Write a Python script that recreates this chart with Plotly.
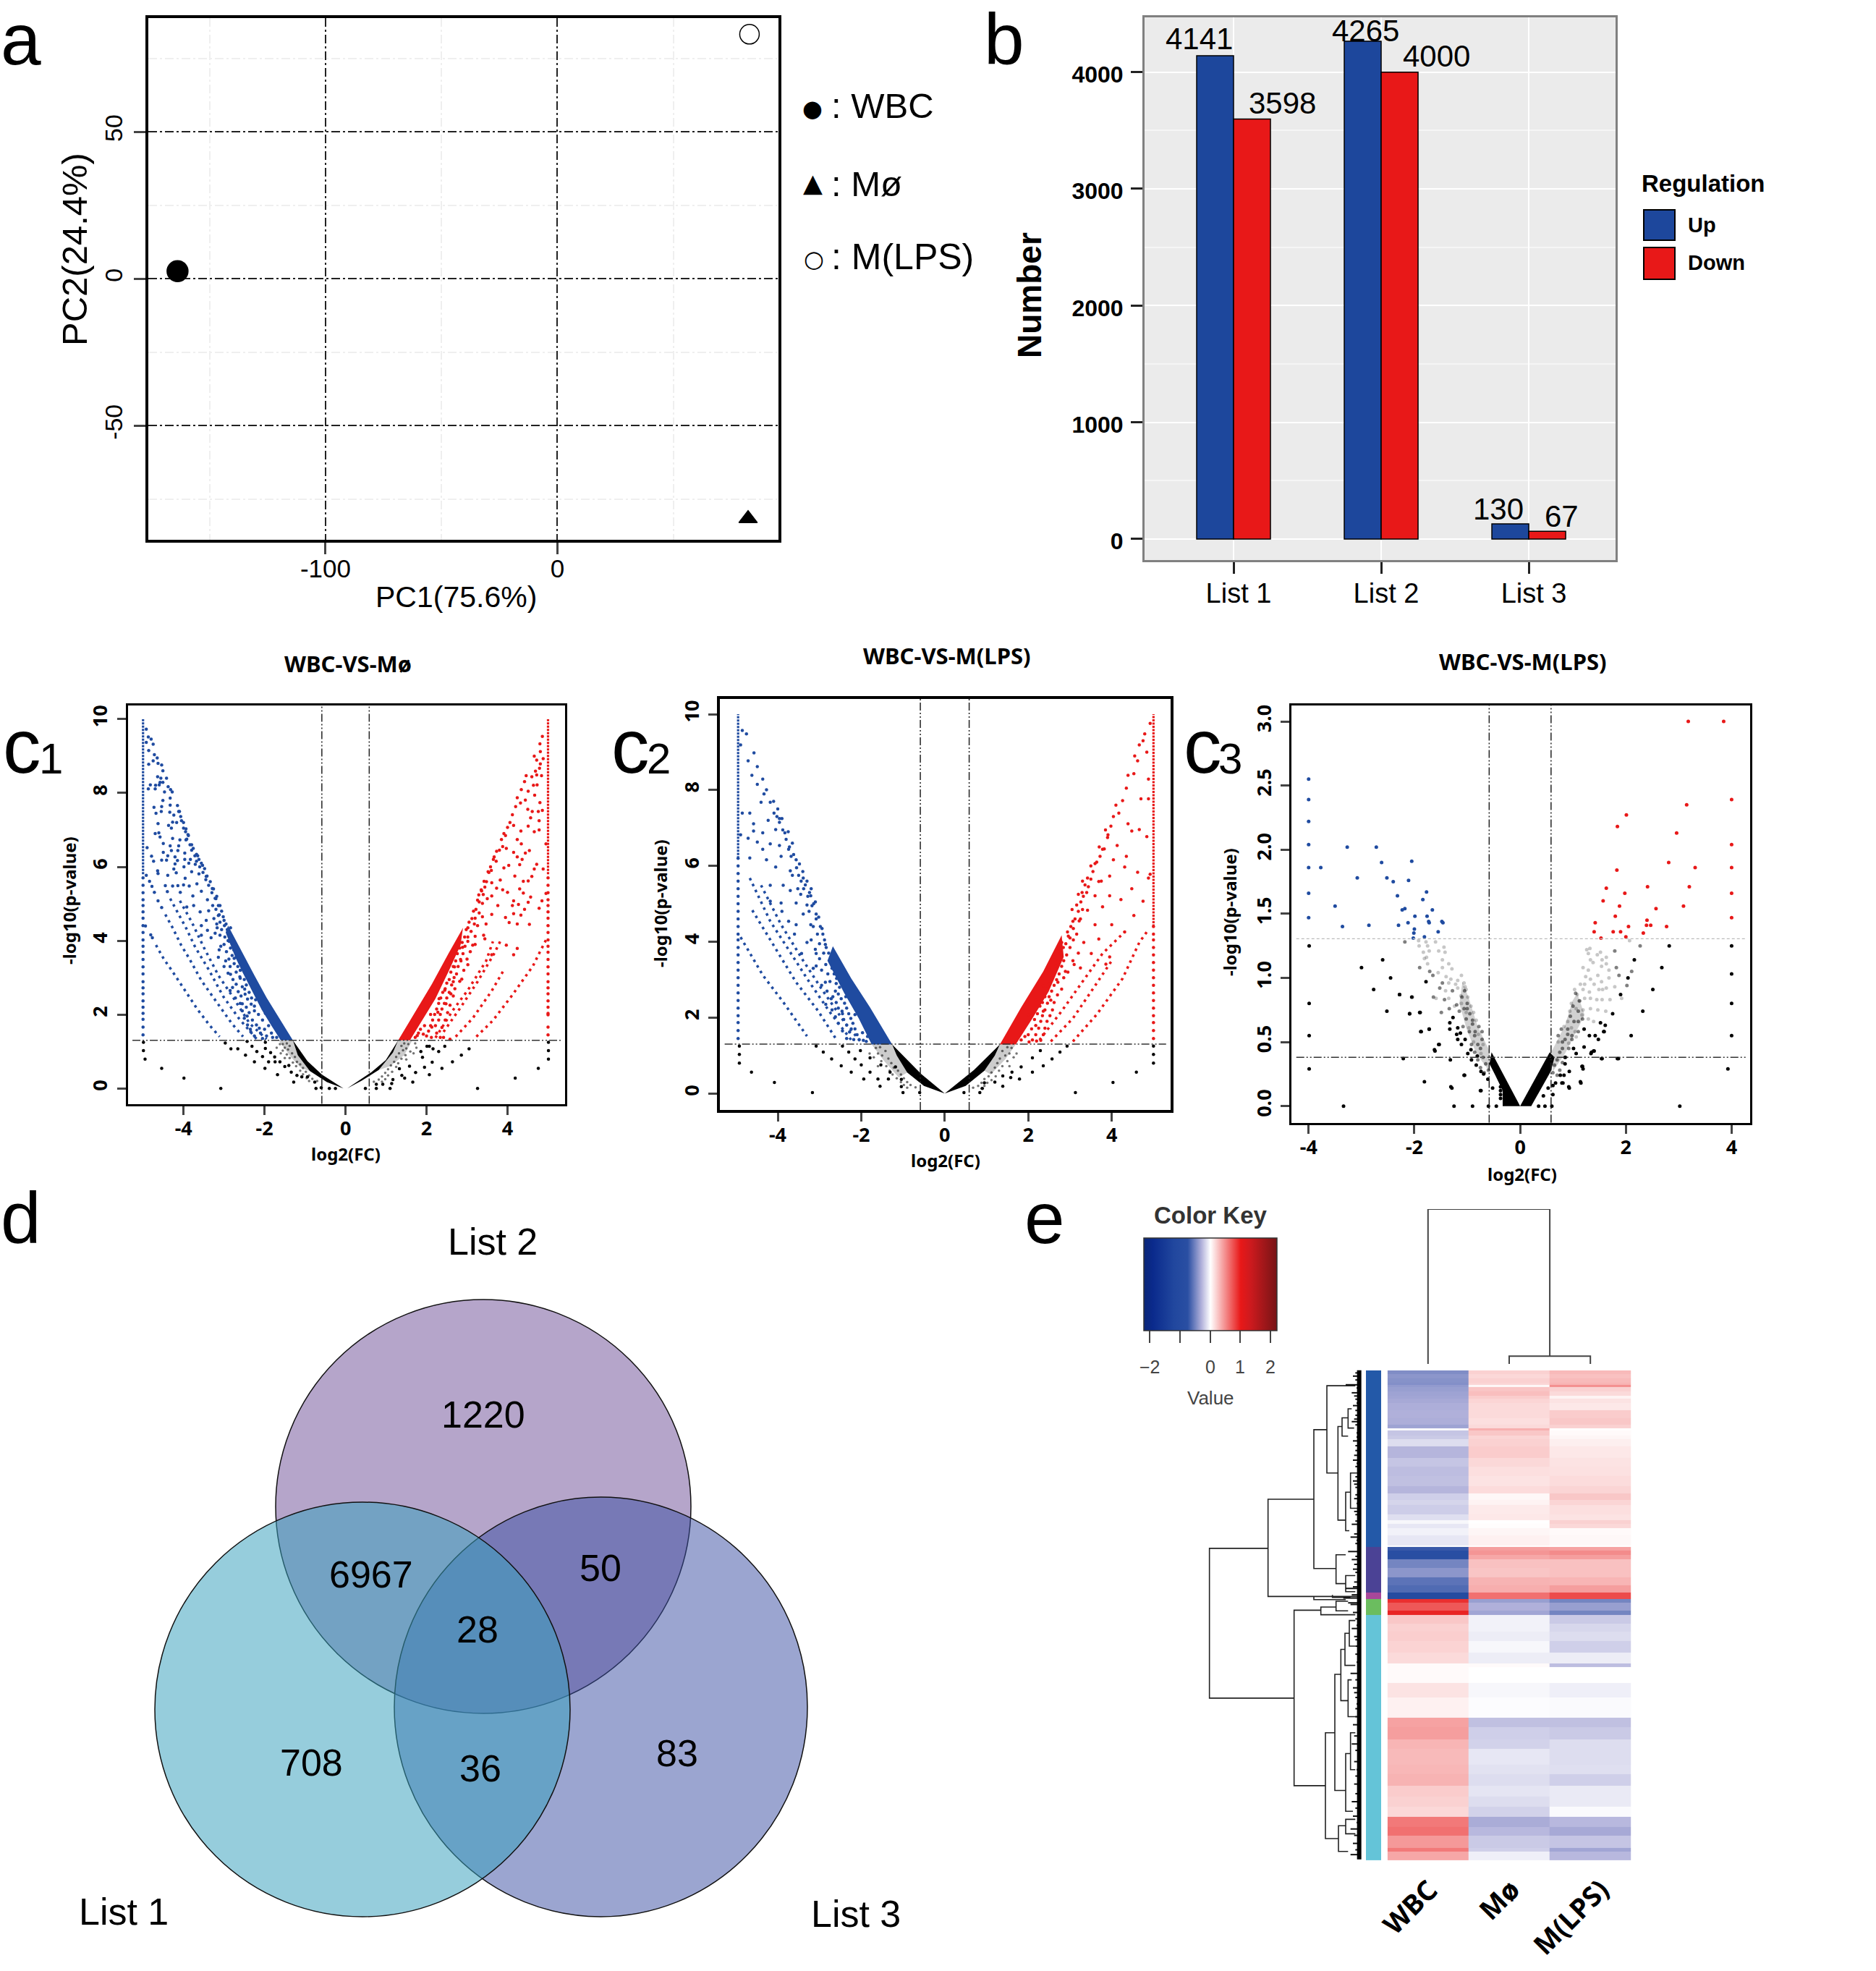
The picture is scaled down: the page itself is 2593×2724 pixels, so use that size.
import plotly.graph_objects as go

W = 2593
H = 2724
ARIAL = "Liberation Sans"
NOTO = "Noto Sans"
BLUE = "#1F4BA0"
RED = "#E81818"

# a: PCA
pca_names = ["WBC", "Mø", "M(LPS)"]
pca_x = [-163.8, 82.2, 82.8]
pca_y = [2.6, -81.6, 83.2]

# b: regulated genes
lists = ["List 1", "List 2", "List 3"]
up_counts = [4141, 4265, 130]
down_counts = [3598, 4000, 67]

# c1: WBC-VS-Mø, left side
c1_blue_band = [(-1.30,1.30),(-1.65,1.93),(-1.95,2.46),(-2.25,3.06),(-2.49,3.55),(-2.67,3.92),(-2.90,4.41),
                (-2.96,4.22),(-2.72,3.55),(-2.55,3.16),(-2.31,2.63),(-2.07,2.13),(-1.83,1.70),(-1.60,1.30)]
c1_blue_arcs = [(-4.68,3.88),(-4.48,3.49),(-4.30,3.21),(-3.96,2.66),(-3.65,2.13),(-3.35,1.70),(-3.11,1.40),(None,None),
                (-4.45,4.71),(-4.27,4.35),(-4.06,3.88),(-3.86,3.52),(-3.56,2.92),(-3.17,2.33),(-2.81,1.76),(-2.53,1.40),(None,None),
                (-4.33,5.14),(-4.12,4.71),(-3.94,4.35),(-3.71,3.82),(-3.38,3.22),(-3.02,2.49),(-2.63,1.89),(-2.19,1.33),(None,None),
                (-4.09,5.08),(-3.80,4.51),(-3.50,3.82),(-3.14,3.06),(-2.79,2.49),(-2.37,1.76),(-1.95,1.33)]
c1_blue_dots = [(-4.92,9.73),(-4.87,9.52),(-4.80,9.46),(-4.75,9.32),(-4.92,9.37),(-4.86,9.15),(-4.72,9.04),(-4.65,8.95),(-4.75,8.87),
                (-4.54,8.76),(-4.86,8.78),(-4.63,8.80),(-4.51,8.60),(-4.42,8.40),(-4.64,8.44),(-4.56,8.40),(-4.58,8.29),(-4.51,8.29),
                (-4.82,8.22),(-4.69,8.21),(-4.60,8.22),(-4.70,8.11),(-4.87,8.11),(-4.38,8.17),(-4.32,8.09),(-4.47,8.03),(-4.28,8.03),
                (-4.33,7.86),(-4.51,7.80),(-4.33,7.67),(-4.15,7.66),(-4.54,7.63),(-4.73,7.61),(-4.12,7.50),(-4.34,7.48),(-4.68,7.45),
                (-4.55,7.50),(-4.07,7.36),(-4.24,7.40),(-4.00,7.20),(-4.27,7.21),(-4.17,7.20),(-4.63,7.17),(-4.37,7.12),(-4.30,7.05),
                (-3.94,7.03),(-3.89,6.87),(-4.70,6.90),(-4.61,6.92),(-4.58,6.81),(-4.09,6.73),(-4.27,6.77),(-3.94,6.73),(-4.50,6.63),
                (-3.80,6.60),(-4.12,6.57),(-4.33,6.57),(-4.90,6.52),(-3.97,6.37),(-3.68,6.34),(-4.50,6.39),(-4.30,6.44),(-4.14,6.44),
                (-4.79,6.29),(-4.39,6.30),(-4.21,6.27),(-3.83,6.20),(-3.62,6.20),(-4.54,6.18),(-4.42,6.18),(-4.15,6.17),(-4.74,6.15),
                (-3.97,6.20),(-4.21,6.08),(-3.87,6.10),(-3.71,6.07),(-3.53,6.04),(-4.39,5.77),(-4.24,5.94),(-4.64,5.89),(-4.63,5.82),
                (-4.18,5.84),(-3.99,6.00),(-3.80,5.87),(-3.62,5.81),(-3.44,5.74),(-3.96,5.69),(-4.92,5.77),(-4.84,5.61),(-4.78,5.47),
                (-4.72,5.31),(-4.63,5.08),(-4.54,4.90),(-4.45,5.49),(-4.40,5.33),(-4.27,5.48),(-4.14,5.49),(-4.00,5.51),(-4.08,5.31),
                (-3.86,5.48),(-3.77,5.21),(-3.67,5.54),(-3.56,5.34),(-3.29,5.41),(-3.41,5.11),(-3.20,5.14),(-3.75,4.95),(-3.59,4.78),
                (-3.92,4.91),(-3.38,4.81),(-3.14,4.68),(-3.44,4.55),(-4.94,4.40),(-4.81,4.16),(-4.77,4.08),(-3.56,4.41),(-3.17,4.35),
                (-3.41,4.28),(-2.99,4.41),(-3.56,4.15),(-3.32,4.08),(-3.08,3.85),(-2.84,4.35),(-2.87,3.98),(-3.14,3.55),(-2.96,3.45),
                (-2.75,3.52),(-2.84,3.09),(-2.61,3.02),(-2.79,2.73),(-2.49,2.69),(-2.19,2.69),(-2.55,2.29),(-2.25,2.23),(-1.98,2.03),
                (-2.43,1.96),(-2.13,1.63),(-1.83,1.50),(-2.34,1.53),
                (-4.1,7.5),(-4.05,7.25),(-4.0,7.05),(-3.95,6.95),(-3.92,6.75),(-3.88,6.85),(-3.84,6.6),(-3.8,6.45),(-3.76,6.5),(-3.72,6.3),
                (-3.68,6.15),(-3.65,6.3),(-3.6,6.0),(-3.56,6.1),(-3.52,5.85),(-3.48,5.95),(-3.45,5.65),(-3.42,5.75),(-3.38,5.5),(-3.34,5.6),
                (-3.3,5.3),(-3.26,5.4),(-3.22,5.15),(-3.18,5.2),(-3.14,4.95),(-3.1,4.95),(-3.28,4.95),(-3.2,4.85),(-3.12,4.7),(-3.06,4.8),
                (-3.25,4.6),(-3.1,4.5),(-3.02,4.65),(-3.18,4.45),(-3.0,4.55),(-2.95,4.45),(-3.06,4.3),(-2.92,4.3),(-3.22,4.2),(-3.1,4.15),
                (-2.98,4.1),(-2.86,4.15),(-2.9,4.0),(-3.0,3.9),(-2.8,3.95),(-2.84,3.8),(-3.12,3.75),(-2.94,3.7),(-2.76,3.75),(-2.8,3.6),
                (-2.88,3.5),(-3.0,3.3),(-2.7,3.55),(-2.75,3.38),(-2.85,3.3),(-2.66,3.3),(-2.7,3.15),(-2.9,3.12),(-2.6,3.2),(-2.78,2.95),
                (-2.6,2.98),(-2.7,2.82),(-2.5,2.95),(-2.55,2.75),(-2.85,2.65),(-2.65,2.62),(-2.45,2.8),(-2.48,2.55),(-2.58,2.5),(-2.72,2.45),
                (-2.38,2.6),(-2.42,2.42),(-2.6,2.3),(-2.32,2.45),(-2.45,2.2),(-2.33,2.28),(-2.55,2.1),(-2.22,2.4),(-2.38,2.05),(-2.25,2.1),
                (-2.5,1.9),(-2.15,2.0),(-2.3,1.85),(-2.42,1.72),(-2.05,1.85),(-2.2,1.72),(-2.35,1.6),(-2.0,1.6),(-1.9,1.7),(-2.1,1.5),
                (-2.25,1.42),(-1.95,1.42),(-1.8,1.38),(-2.05,1.35),(-1.7,1.38)]
c1_blue_col_y = [1.45,1.66,1.87,2.03,2.2,2.37,2.56,2.72,2.89,3.1,3.29,3.49,3.69,3.85,4.02,4.22,4.41,4.61,4.78,4.95,5.11,5.3,5.5,5.7]
c1_black_left = [(-1.30,1.30),(-0.94,0.74),(-0.58,0.37),(-0.05,0.0),(-0.46,0.17),(-0.88,0.47),(-1.18,0.90)]
c1_fan_left = [(-1.65,1.30),(-1.30,1.30),(-1.18,0.90),(-0.88,0.47),(-1.1,0.55),(-1.35,0.85)]
c1_fan_dots_left = [(-1.55,1.2),(-1.45,1.22),(-1.5,1.1),(-1.42,1.05),(-1.38,1.15),(-1.55,1.02),(-1.32,0.95),(-1.45,0.92),(-1.25,0.85),(-1.38,0.82),
                    (-1.2,0.72),(-1.3,0.7),(-1.12,0.65),(-1.22,0.6),(-1.05,0.55),(-1.12,0.48),(-0.98,0.45),(-1.05,0.38),(-0.9,0.35),(-0.96,0.28),
                    (-0.82,0.26),(-0.9,0.2),(-0.7,0.2),(-1.5,0.82),(-1.6,0.95),(-1.7,1.1),(-1.62,1.2)]
c1_black_dots_left = [(-4.99,1.25),(-4.99,1.02),(-4.95,0.79),(-4.54,0.54),(-3.99,0.28),(-3.08,0.0),(-2.97,1.23),(-2.83,1.07),(-2.66,1.07),
                      (-2.47,0.90),(-2.43,1.27),(-2.31,1.14),(-2.19,1.0),(-2.05,0.86),(-2.25,0.72),(-1.90,0.72),(-1.99,0.54),(-1.74,0.72),
                      (-1.62,0.72),(-1.68,0.37),(-1.50,0.59),(-1.34,0.44),(-1.28,0.17),(-0.73,0.0),(-1.08,0.31),(-0.94,0.31),(-0.76,0.17),
                      (-1.98,1.08),(-1.85,0.97),(-1.75,0.85),(-1.98,1.25),(-0.6,0.02),(-0.4,0.0),(-0.25,0.0),(-1.4,0.62),(-1.2,0.35)]

# c1: right side
c1_red_band = [(1.30,1.30),(1.71,2.06),(2.13,2.82),(2.54,3.65),(2.90,4.35),
               (2.84,3.88),(2.54,3.16),(2.22,2.43),(1.89,1.83),(1.59,1.30)]
c1_red_arcs = [(3.23,1.40),(3.64,1.84),(4.12,2.53),(4.63,3.32),(4.81,3.72),(4.95,4.02),(None,None),
               (2.72,1.40),(3.14,1.90),(3.61,2.64),(3.91,3.21),(None,None),
               (2.42,1.53),(2.84,2.19),(3.26,2.89),(3.67,3.65),(3.85,4.05),(None,None),
               (2.22,1.37),(2.66,2.13),(3.02,2.66),(3.47,3.45),(3.64,3.98)]
c1_red_dots = [(4.86,9.53),(4.80,9.33),(4.81,9.12),(4.66,9.0),(4.88,8.93),(4.72,8.89),(4.81,8.79),(4.79,8.67),(4.69,8.59),(4.60,8.44),
               (4.46,8.47),(4.84,8.47),(4.72,8.49),(4.42,8.31),(4.64,8.21),(4.73,8.22),(4.34,8.09),(4.51,8.05),(4.67,7.94),(4.24,7.87),
               (4.32,7.73),(4.44,7.81),(4.20,7.63),(4.80,7.74),(4.50,7.56),(4.61,7.50),(4.76,7.50),(4.86,7.53),(4.12,7.41),(4.57,7.33),
               (4.78,7.25),(4.06,7.2),(4.51,7.10),(4.15,7.12),(4.0,7.07),(4.33,6.97),(4.66,6.95),(4.78,7.0),(3.91,6.9),(3.85,6.74),
               (4.24,6.74),(4.95,6.62),(4.34,6.62),(3.73,6.42),(3.97,6.50),(4.54,6.44),(4.44,6.37),(4.15,6.39),(3.67,6.27),(4.24,6.27),
               (4.36,6.2),(4.03,6.04),(3.91,5.97),(3.58,6.0),(4.72,6.07),(4.30,6.06),(4.88,5.94),(4.66,5.94),(3.52,5.87),(4.18,5.75),
               (4.60,5.74),(3.82,5.64),(4.39,5.61),(4.51,5.62),(3.42,5.61),(3.61,5.57),(3.73,5.42),(4.30,5.40),(3.88,5.38),(3.35,5.38),
               (4.0,5.31),(4.57,5.18),(4.39,5.29),(4.95,5.28),(3.61,5.21),(3.29,5.24),(3.50,5.14),(4.15,5.08),(4.51,5.04),(4.85,5.08),
               (3.76,4.95),(3.38,5.01),(4.12,4.95),(4.27,4.98),(4.78,4.88),(4.42,4.85),(4.33,4.69),(4.15,4.73),(3.61,4.71),(3.38,4.65),
               (3.95,4.63),(4.04,4.49),(4.24,4.45),(4.54,4.44),(3.20,4.61),(3.47,4.45),(3.26,4.41),(3.02,4.35),(3.41,4.15),(3.2,4.12),
               (3.02,3.98),(3.44,4.05),(2.89,3.82),(3.14,3.88),(4.24,3.79),(3.97,3.88),(4.15,3.62),(3.61,3.62),(2.84,3.49),(3.02,3.35),
               (2.69,3.29),(2.87,2.96),(2.66,2.89),(2.45,2.66),(2.60,2.56),(2.31,2.43),(2.48,2.29),(2.10,2.0),(2.28,2.06),(1.95,1.70),
               (2.13,1.66),(1.77,1.43),(1.92,1.47),(2.42,1.38),(2.58,1.33),
               (3.95,6.85),(3.88,6.55),(3.8,6.45),(3.72,6.15),(3.65,6.2),(3.6,5.9),(3.54,5.85),(3.48,5.6),(3.44,5.45),(3.4,5.25),
               (3.36,5.35),(3.3,5.05),(3.26,5.1),(3.22,4.85),(3.16,4.8),(3.3,4.75),(3.12,4.6),(3.05,4.5),(3.18,4.45),(2.98,4.3),
               (3.1,4.25),(2.94,4.1),(3.02,4.1),(3.2,3.9),(2.88,3.95),(2.95,3.85),(3.08,3.7),(2.82,3.8),(2.9,3.65),(3.0,3.5),
               (2.76,3.65),(2.85,3.45),(2.72,3.45),(2.78,3.3),(2.92,3.2),(2.66,3.3),(2.74,3.1),(2.6,3.15),(2.68,3.0),(2.82,2.9),
               (2.56,2.95),(2.62,2.8),(2.5,2.85),(2.7,2.7),(2.46,2.7),(2.56,2.6),(2.66,2.5),(2.4,2.6),(2.5,2.45),(2.35,2.45),
               (2.44,2.3),(2.58,2.25),(2.3,2.3),(2.38,2.15),(2.52,2.05),(2.25,2.15),(2.34,2.0),(2.2,2.0),(2.46,1.85),(2.3,1.85),
               (2.15,1.85),(2.22,1.7),(2.38,1.65),(2.1,1.7),(2.05,1.55),(2.25,1.5),(2.0,1.42),(2.12,1.38),(1.85,1.6),(1.72,1.38),
               (1.8,1.5),(2.34,1.38)]
c1_red_col_y = [1.45,1.66,1.99,2.03,2.2,2.37,2.56,2.72,2.89,3.1,3.29,3.49,3.69,3.85,4.02,4.22,4.41,4.61,4.78,4.95,5.11,5.3,5.5,5.7]
c1_black_right = [(1.30,1.30),(0.995,0.77),(0.64,0.44),(0.04,0.0),(0.40,0.21),(0.82,0.50),(1.17,0.97)]
c1_fan_right = [(1.30,1.30),(1.65,1.30),(1.45,0.9),(1.1,0.6),(0.82,0.50),(1.17,0.97)]
c1_fan_dots_right = [(1.55,1.2),(1.45,1.22),(1.5,1.08),(1.42,1.03),(1.38,1.15),(1.6,1.0),(1.32,0.95),(1.48,0.9),(1.25,0.85),(1.38,0.8),(1.2,0.72),
                     (1.3,0.68),(1.12,0.62),(1.25,0.58),(1.05,0.52),(1.15,0.45),(0.98,0.42),(1.05,0.35),(0.9,0.32),(0.98,0.25),(0.82,0.24),(0.9,0.18),
                     (0.7,0.18),(1.5,0.78),(1.68,0.95),(1.75,1.1),(1.72,1.22)]
c1_black_dots_right = [(5.01,1.25),(5.01,1.02),(5.01,0.79),(4.76,0.54),(4.19,0.28),(3.26,0.0),(3.05,1.07),(2.86,0.90),(2.64,0.72),(2.38,0.54),
                       (2.07,0.37),(2.45,1.14),(2.30,1.0),(2.14,0.71),(1.95,0.57),(1.73,0.43),(1.66,0.17),(1.46,0.28),(1.39,0.35),(2.16,1.07),
                       (2.07,1.14),(1.90,0.84),(1.10,0.0),(0.76,0.0),(1.17,0.24),(0.92,0.11),(1.14,0.13),(0.76,0.11),(0.49,0.0),(1.33,0.53),
                       (1.58,0.60),(1.86,1.0),(2.01,1.14)]

# c2: WBC-VS-M(LPS), left side
c2_blue_band = [(-1.26,1.29),(-1.79,2.27),(-2.24,3.03),(-2.68,3.88),(-2.81,3.50),(-2.41,2.65),(-2.06,1.98),(-1.75,1.29)]
c2_blue_arcs = [(-4.89,4.12),(-4.36,3.12),(-3.87,2.41),(-3.30,1.51),(None,None),
                (-4.61,4.83),(-4.09,3.88),(-3.56,2.93),(-3.03,2.17),(-2.59,1.41),(None,None),
                (-4.67,5.68),(-4.18,4.54),(-3.74,3.79),(-3.30,3.03),(-2.77,2.17),(-2.24,1.41),(None,None),
                (-4.40,5.49),(-3.92,4.45),(-3.39,3.50),(-2.94,2.74),(-2.41,1.89),(-2.02,1.37)]
c2_blue_dots = [(-4.85,9.57),(-4.75,9.48),(-4.89,9.19),(-4.57,8.98),(-4.71,8.77),(-4.49,8.62),(-4.62,8.39),(-4.36,8.29),(-4.49,8.15),(-4.27,8.01),
                (-4.18,7.68),(-4.40,7.68),(-4.85,7.39),(-4.09,7.39),(-4.67,7.39),(-3.96,7.15),(-4.23,7.20),(-4.58,7.11),(-4.89,6.82),(-3.83,6.87),
                (-4.05,6.96),(-4.36,6.87),(-4.58,6.92),(-3.74,6.44),(-3.96,6.54),(-4.18,6.58),(-4.49,6.63),(-4.71,6.73),(-3.56,6.16),(-3.92,6.25),
                (-4.36,6.44),(-4.67,6.21),(-4.05,5.97),(-3.70,5.87),(-4.27,6.16),(-3.39,5.68),(-3.87,5.49),(-4.18,5.49),(-3.52,5.40),(-3.21,5.21),
                (-3.30,4.97),(-3.92,5.02),(-3.56,5.02),(-3.08,4.73),(-4.18,5.07),(-3.74,4.54),(-3.39,4.73),(-2.94,4.35),(-3.21,4.45),(-3.56,4.45),
                (-3.30,3.98),(-2.86,3.93),(-3.08,3.69),(-3.43,3.69),(-2.68,3.50),(-3.08,3.36),(-2.59,3.03),(-2.86,2.93),(-2.37,2.55),(-2.68,2.55),
                (-2.15,2.08),(-2.46,2.17),(-2.24,1.70),(-1.97,1.60),(-1.88,1.37),(-4.33,7.9),(-4.1,7.7),(-4.0,7.5),(-3.9,7.25),(-3.75,6.9),
                (-3.65,6.6),(-3.48,6.05),(-3.4,5.85),(-3.3,5.6),(-3.2,5.4),(-3.1,5.05),(-3.65,5.75),(-3.7,5.35),(-3.45,5.25),(-3.9,4.8),(-3.6,4.2),
                (-4.02,7.3),(-3.96,7.25),(-3.88,6.95),(-3.8,6.7),(-3.72,6.5),(-3.68,6.25),(-3.62,6.3),(-3.55,5.95),(-3.5,5.75),(-3.44,5.6),
                (-3.38,5.4),(-3.34,5.5),(-3.28,5.2),(-3.24,5.3),(-3.18,4.95),(-3.14,5.0),(-3.25,4.8),(-3.08,4.6),(-3.02,4.65),(-3.15,4.4),
                (-2.98,4.4),(-3.05,4.2),(-2.92,4.2),(-3.2,4.05),(-2.88,4.05),(-3.0,3.95),(-2.84,3.85),(-3.1,3.8),(-2.9,3.7),(-2.78,3.7),
                (-3.0,3.55),(-2.74,3.5),(-2.85,3.4),(-3.15,3.3),(-2.95,3.25),(-2.7,3.3),(-2.8,3.15),(-2.65,3.15),(-2.75,2.95),(-2.95,2.85),
                (-2.6,2.9),(-2.52,2.8),(-2.82,2.7),(-2.62,2.7),(-2.55,2.62),(-2.72,2.5),(-2.48,2.5),(-2.6,2.4),(-2.85,2.35),(-2.4,2.38),
                (-2.55,2.25),(-2.7,2.2),(-2.35,2.25),(-2.45,2.1),(-2.62,2.02),(-2.3,2.1),(-2.42,1.95),(-2.25,1.98),(-2.55,1.85),(-2.35,1.8),
                (-2.2,1.85),(-2.45,1.65),(-2.28,1.62),(-2.15,1.7),(-2.1,1.55),(-2.35,1.45),(-2.18,1.42),(-2.05,1.42),(-1.95,1.4),(-1.85,1.5)]
c2_blue_col_y = [1.45,1.66,1.87,2.05,2.25,2.45,2.65,2.85,3.05,3.25,3.45,3.65,3.85,4.05,4.2,4.4,4.6,4.8,5.0,5.2,5.4,5.6,5.8,6.0,6.2]
c2_black_left = [(-1.26,1.29),(-0.56,0.51),(0.0,0.0),(-0.5,0.2),(-0.9,0.55),(-1.15,1.0)]
c2_fan_left = [(-1.75,1.29),(-1.26,1.29),(-1.15,1.0),(-0.9,0.55),(-1.1,0.42),(-1.45,0.85)]
c2_fan_dots_left = [(-1.65,1.2),(-1.55,1.22),(-1.6,1.05),(-1.5,1.0),(-1.42,1.12),(-1.7,0.95),(-1.35,0.92),(-1.52,0.85),(-1.28,0.8),(-1.4,0.72),(-1.22,0.68),
                    (-1.32,0.6),(-1.12,0.6),(-1.25,0.5),(-1.05,0.5),(-1.15,0.4),(-0.98,0.4),(-1.05,0.3),(-0.9,0.3),(-0.98,0.22),(-0.82,0.22),(-0.9,0.15),
                    (-0.7,0.16),(-1.6,0.72),(-1.8,1.05)]
c2_black_dots_left = [(-4.92,1.25),(-4.92,1.03),(-4.92,0.80),(-4.63,0.56),(-4.08,0.29),(-3.17,0.02),(-3.08,1.25),(-2.91,1.09),(-2.71,0.91),(-2.48,0.73),
                      (-2.24,0.56),(-1.94,0.38),(-1.55,0.19),(-1.0,0.02),(-0.60,0.02),(-2.45,1.25),(-2.30,1.09),(-2.15,0.91),(-2.0,0.75),(-1.79,0.56),
                      (-1.60,0.38),(-1.35,0.38),(-1.04,0.37),(-1.04,0.18),(-2.02,1.13),(-1.79,0.94),(-1.53,0.75),(-1.31,0.56),(-1.18,0.70)]

# c2: right side
c2_red_band = [(1.32,1.29),(1.83,2.27),(2.36,3.22),(2.80,4.17),(2.85,3.60),(2.49,2.69),(2.10,1.98),(1.70,1.29)]
c2_red_arcs = [(3.07,1.37),(3.64,2.08),(4.26,3.03),(4.66,3.98),(4.84,4.26),(None,None),
               (2.54,1.37),(3.07,1.98),(3.60,2.84),(4.0,3.50),(None,None),
               (2.27,1.41),(2.80,2.17),(3.29,2.93),(3.78,3.69),(4.31,4.26)]
c2_red_dots = [(4.92,9.76),(4.79,9.48),(4.66,9.19),(4.84,9.0),(4.62,8.77),(4.53,8.43),(4.39,8.39),(4.88,8.29),(4.35,8.05),(4.26,7.72),
               (4.70,7.77),(4.88,7.77),(4.04,7.30),(4.17,7.39),(4.39,7.11),(4.66,6.96),(3.91,6.82),(4.84,6.77),(4.13,6.54),(4.48,6.92),
               (3.78,6.44),(4.35,6.25),(4.04,6.16),(3.60,6.06),(4.62,5.83),(4.92,5.78),(4.31,5.97),(3.95,5.73),(3.42,5.68),(3.69,5.59),
               (4.48,5.40),(4.88,5.68),(3.29,5.30),(3.60,5.21),(3.95,5.21),(4.22,5.11),(4.75,5.07),(3.16,4.97),(3.42,4.83),(3.78,4.92),
               (4.53,4.69),(3.07,4.54),(3.60,4.45),(4.0,4.45),(4.31,4.26),(2.94,4.26),(3.33,3.98),(3.69,4.07),(2.80,3.98),(3.51,3.69),
               (3.95,3.60),(2.63,3.60),(3.07,3.50),(2.89,3.22),(2.49,3.26),(3.25,3.31),(3.86,3.41),(2.36,2.84),(2.71,2.93),(2.18,2.46),
               (2.54,2.46),(2.01,2.08),(2.36,2.17),(1.87,1.75),(2.18,1.79),(1.83,1.41),(2.10,1.41),(4.55,8.9),(4.75,9.3),(4.1,7.6),
               (3.85,6.95),(3.7,6.5),(3.5,6.0),(3.3,5.6),(3.2,5.25),(3.05,4.85),(3.4,5.3),(3.75,5.6),(3.25,4.6),(3.0,4.1),(2.75,3.75),
               (3.98,7.05),(3.9,6.75),(3.82,6.45),(3.72,6.25),(3.64,6.1),(3.55,5.85),(3.5,5.65),(3.44,5.45),(3.36,5.5),(3.32,5.2),
               (3.26,5.05),(3.2,4.8),(3.3,4.85),(3.12,4.6),(3.22,4.55),(3.08,4.35),(3.02,4.4),(3.16,4.2),(2.96,4.15),(3.08,4.05),
               (2.9,3.95),(3.0,3.85),(2.84,3.85),(3.2,3.7),(2.92,3.65),(2.78,3.7),(2.85,3.5),(3.1,3.4),(2.72,3.5),(2.8,3.35),
               (2.95,3.2),(2.66,3.35),(2.74,3.15),(2.6,3.2),(2.85,3.05),(2.68,3.0),(2.56,3.05),(2.62,2.85),(2.8,2.75),(2.5,2.9),
               (2.56,2.7),(2.7,2.6),(2.44,2.75),(2.5,2.55),(2.62,2.4),(2.4,2.55),(2.46,2.38),(2.58,2.2),(2.34,2.4),(2.4,2.2),
               (2.52,2.05),(2.28,2.3),(2.34,2.05),(2.45,1.9),(2.22,2.1),(2.3,1.9),(2.4,1.72),(2.15,1.95),(2.25,1.72),(2.36,1.55),
               (2.08,1.7),(2.18,1.55),(2.3,1.4),(2.0,1.55),(1.92,1.5),(2.2,1.38),(2.02,1.36)]
c2_red_col_y = [1.45,1.66,1.87,2.05,2.25,2.45,2.65,2.85,3.05,3.25,3.45,3.65,3.85,4.05,4.2,4.4]
c2_black_right = [(1.32,1.29),(0.7,0.62),(0.0,0.0),(0.5,0.2),(0.95,0.6),(1.2,1.0)]
c2_fan_right = [(1.32,1.29),(1.7,1.29),(1.45,0.9),(1.1,0.5),(0.95,0.6),(1.2,1.0)]
c2_fan_dots_right = [(1.6,1.2),(1.5,1.22),(1.55,1.05),(1.45,1.0),(1.38,1.12),(1.65,0.95),(1.32,0.92),(1.5,0.85),(1.26,0.8),(1.38,0.72),(1.2,0.68),(1.3,0.6),
                     (1.12,0.55),(1.22,0.45),(1.05,0.45),(1.12,0.35),(0.95,0.38),(1.02,0.28),(0.88,0.28),(0.95,0.2),(0.8,0.2),(0.88,0.13),(0.68,0.15),(1.55,0.72),(1.72,1.05)]
c2_black_dots_right = [(5.0,1.25),(5.0,1.03),(5.0,0.80),(4.59,0.56),(4.03,0.29),(3.13,0.02),(2.93,1.25),(2.76,1.09),(2.57,0.91),(2.36,0.73),
                       (2.10,0.56),(1.79,0.38),(1.39,0.19),(0.84,0.02),(0.46,0.02),(2.29,1.13),(2.10,0.94),(1.83,0.70),(1.61,0.56),(1.39,0.46),
                       (0.95,0.28),(0.90,0.13),(1.58,0.42),(1.2,0.3)]

# c3: WBC-VS-M(LPS)
c3_blue = [(-4.0,2.55),(-4.0,2.39),(-4.0,2.22),(-4.0,2.04),(-4.0,1.86),(-4.0,1.66),(-4.0,1.47),(-3.77,1.86),(-3.27,2.02),(-2.72,2.02),
           (-2.62,1.90),(-3.08,1.78),(-2.52,1.78),(-2.40,1.75),(-2.32,1.64),(-3.50,1.56),(-3.36,1.40),(-2.86,1.41),(-2.23,1.53),(-2.18,1.54),
           (-2.30,1.41),(-2.12,1.43),(-2.11,1.76),(-2.05,1.91),(-1.84,1.61),(-1.77,1.67),(-1.66,1.53),(-1.99,1.48),(-1.76,1.48),(-1.73,1.44),
           (-1.72,1.43),(-1.48,1.44),(-1.46,1.43),(-1.55,1.36),(-2.00,1.38),(-2.01,1.35),(-2.02,1.31),(-1.81,1.32)]
c3_red = [(3.18,3.0),(3.85,3.0),(3.15,2.35),(4.0,2.39),(2.01,2.27),(1.84,2.18),(2.96,2.13),(4.0,2.04),(2.81,1.90),(3.31,1.86),(4.0,1.86),
          (1.83,1.84),(1.63,1.70),(2.41,1.71),(3.20,1.71),(1.98,1.66),(4.0,1.66),(1.57,1.60),(3.09,1.56),(1.88,1.56),(2.57,1.54),(1.80,1.48),
          (4.0,1.47),(1.42,1.43),(2.40,1.45),(2.39,1.41),(2.47,1.41),(2.05,1.40),(2.77,1.40),(1.40,1.36),(1.76,1.36),(1.90,1.36),(2.00,1.32),
          (2.33,1.35),(1.53,1.31)]
c3_black = [(-3.99,1.25),(-3.99,0.80),(-3.99,0.55),(-3.99,0.29),(-3.00,1.08),(-2.77,0.91),(-2.60,1.14),(-2.45,1.00),(-2.28,0.87),(-2.52,0.74),
            (-2.09,0.72),(-1.90,0.73),(-2.05,0.85),(-1.88,0.58),(-1.72,0.60),(-1.54,0.48),(-1.62,0.44),(-2.21,0.37),(-1.32,0.36),(-1.06,0.24),
            (-1.81,0.19),(-1.31,0.15),(-0.75,0.12),(-1.25,0.0),(-0.90,0.0),(-3.34,0.0),(3.02,0.0),(4.0,1.25),(4.0,1.03),(4.0,0.80),(4.0,0.55),
            (3.93,0.29),(2.82,1.25),(2.68,1.08),(2.51,0.91),(2.32,0.74),(2.10,0.55),(2.04,1.00),(2.16,1.14),(1.90,0.87),(1.75,0.72),(1.58,0.58),
            (1.84,0.37),(1.54,0.37),(1.39,0.43),(1.34,0.41),(1.18,0.31),(1.14,0.19),(0.92,0.15),(0.79,0.18),(-1.33,0.65),(-1.33,0.60),(-1.27,0.69),
            (-1.18,0.61),(-1.13,0.57),(-1.20,0.56),(-1.18,0.52),(-1.11,0.48),(-1.04,0.52),(-0.99,0.41),(-0.93,0.44),(-0.92,0.36),(-0.81,0.39),
            (-0.83,0.32),(-0.74,0.27),(-0.69,0.25),(-0.61,0.21),(-0.52,0.14),(-0.74,0.12),(-1.05,0.24),(-1.29,0.14),(-1.72,0.60),(-1.87,0.58),
            (-1.53,0.48),(-1.61,0.43),(-1.78,0.97),(-2.28,0.87),(-2.09,0.72),(-1.89,0.73),(1.31,0.55),(1.42,0.55),(1.21,0.60),(1.52,0.65),(1.61,0.63),
            (1.59,0.58),(1.48,0.52),(1.21,0.46),(1.40,0.43),(1.35,0.42),(1.01,0.45),(1.06,0.41),(0.85,0.38),(0.85,0.33),(0.93,0.27),(0.76,0.24),
            (0.83,0.24),(1.19,0.29),(1.17,0.31),(0.62,0.16),(0.62,0.09),(0.60,0.0),(0.47,0.0),(0.35,0.0),(0.44,0.08),(0.53,0.14),(0.67,0.18),
            (0.81,0.18),(0.93,0.14),(1.15,0.18),(1.55,0.37),(1.86,0.37),(-0.37,0.06),(-0.37,0.09),(-0.37,0.12),(-0.37,0.15),(-0.6,0.0),(-0.45,0.0)]
c3_mid = [(-1.90,1.08),(-1.71,1.05),(-1.65,1.02),(-1.52,0.92),(-1.47,0.96),(-2.04,0.85),(-1.64,0.85),(-1.43,0.83),(-1.34,0.76),(-1.49,0.73),(-2.18,1.28),
          (-1.28,0.9),(-1.2,0.79),(-1.0,0.76),(-0.9,0.67),(-0.85,0.58),(-0.72,0.52),(2.11,1.05),(2.02,0.94),(2.27,1.25),(1.79,1.21),(1.82,1.08),
          (1.87,1.02),(0.9,0.56),(0.8,0.5),(0.98,0.52),(1.1,0.66),
          (-1.05,0.9),(-1.1,0.85),(-1.0,0.8),(-1.06,0.76),(-0.95,0.72),(-1.02,0.68),(-0.9,0.64),(-0.96,0.58),(-0.86,0.55),(-0.92,0.48),(-0.8,0.48),(-0.86,0.42),
          (-0.75,0.45),(-0.8,0.36),(-0.7,0.38),(-0.75,0.3),(-0.65,0.33),(-0.68,0.26),(-0.6,0.28),(-1.15,0.74),(-1.08,0.62),(-0.78,0.62),(-0.72,0.58),
          (1.05,0.88),(1.12,0.82),(1.0,0.78),(1.1,0.74),(0.95,0.7),(1.02,0.66),(0.9,0.6),(0.98,0.55),(0.85,0.52),(0.92,0.45),(0.8,0.45),(0.86,0.38),
          (0.75,0.42),(0.8,0.34),(0.7,0.36),(0.75,0.28),(0.65,0.32),(0.7,0.24),(0.62,0.26),(1.18,0.68),(1.1,0.58),(0.78,0.6),(0.72,0.55)]
c3_light = [(-1.92,1.29),(-1.78,1.28),(-1.60,1.28),(-1.91,1.25),(-1.75,1.25),(-1.44,1.24),(-1.83,1.20),(-1.72,1.21),(-1.54,1.21),(-1.42,1.20),(-1.77,1.16),
            (-1.81,1.15),(-1.47,1.14),(-1.75,1.11),(-1.35,1.11),(-1.47,1.08),(-1.29,1.07),(-1.55,1.04),(-1.40,1.01),(-1.11,1.02),(-1.31,0.99),(-1.18,0.98),
            (-1.35,0.96),(-1.06,0.96),(-1.22,0.95),(-1.18,0.92),(-1.04,0.93),(-1.41,0.90),(-1.02,0.91),(-1.12,0.86),(-0.99,0.85),(-1.59,0.84),(-1.24,0.78),
            (-1.35,0.84),(-0.93,0.78),(-0.88,0.73),(-0.83,0.67),(-1.11,0.80),(-1.02,0.73),(-0.97,0.61),(-0.79,0.56),(-0.88,0.50),(-0.70,0.48),(-0.74,0.41),
            (1.26,1.22),(1.32,1.23),(1.29,1.19),(1.46,1.18),(1.52,1.20),(1.33,1.14),(1.55,1.14),(1.63,1.16),(1.38,1.12),(1.63,1.11),(1.54,1.09),(1.19,1.08),
            (1.29,1.06),(1.68,1.06),(1.47,1.02),(1.24,1.01),(1.33,0.99),(1.68,1.00),(1.54,0.97),(1.14,0.95),(1.22,0.95),(1.40,0.95),(1.19,0.91),(1.63,0.92),
            (1.56,0.91),(1.49,0.91),(1.79,0.93),(1.03,0.91),(1.31,0.89),(1.08,0.87),(1.22,0.84),(1.33,0.84),(1.45,0.83),(1.55,0.83),(1.70,0.83),(1.92,0.84),
            (1.13,0.82),(0.97,0.80),(1.19,0.75),(1.33,0.76),(1.47,0.75),(1.62,0.74),(1.06,0.76),(0.94,0.74),(1.17,0.71),(1.29,0.68),(1.39,0.66),(0.90,0.66),
            (0.83,0.62),(0.97,0.61),(1.04,0.58),(0.72,0.50),(0.92,0.49),(1.06,0.54),(2.07,1.29)]
c3_black_left = [(-0.54,0.42),(0.0,0.0),(-0.33,0.0),(-0.33,0.12),(-0.47,0.24),(-0.58,0.33)]
c3_black_right = [(0.56,0.42),(0.0,0.0),(0.21,0.0),(0.40,0.14),(0.58,0.27),(0.65,0.38)]
c3_fan_left = [(-0.58,0.43),(-0.81,0.63),(-0.97,0.84),(-1.09,0.97),(-1.15,0.80),(-1.02,0.61),(-0.83,0.41),(-0.58,0.27)]
c3_fan_right = [(0.60,0.43),(0.85,0.63),(0.99,0.82),(1.08,0.88),(1.22,0.71),(1.04,0.56),(0.85,0.41),(0.62,0.27)]

# d: venn
venn_values = ["1220", "6967", "50", "28", "708", "36", "83"]
venn_lists = ["List 2", "List 1", "List 3"]

# e: heatmap, row edges with one value per sample
heat_cols = ["WBC", "Mø", "M(LPS)"]
heat_edges = [20,32,45,58,66,72,85,100,108,122,145,170,190,200,208,222,235,258,292,320,350,380,404,425,440,470,488,498,512,535,565,570,582,596,608,635,665,690,712,733,745,770,783,810,835,865,900,935,945,995,1040,1104,1132,1172,1200,1250,1280,1315,1350,1380,1412,1445,1470,1510,1520,1548]
heat_wbc = [-.46,-.42,-.44,-.45,-.40,-.38,-.36,-.35,-.33,-.31,-.30,-.31,-.36,-.02,-.22,-.20,-.13,-.28,-.22,-.25,-.24,-.28,-.18,-.16,-.19,-.12,-.03,-.09,-.05,-.09,0,-.70,-.78,-.82,-.50,-.42,-.58,-.62,-1.0,.90,.72,.95,.24,.20,.21,.19,.16,.02,.02,.12,.06,.40,.42,.32,.30,.31,.33,.22,.20,.17,.58,.62,.44,.58,.38]
heat_mac = [.20,.17,.20,.18,.03,.25,.28,.22,.18,.16,.16,.14,.16,.34,.24,.18,.20,.22,.17,.14,.12,.15,.03,.05,.09,.10,.0,.01,.04,.06,0,.42,.46,.38,.27,.25,.33,.35,.62,-.38,-.30,-.35,-.05,-.05,-.07,-.03,-.07,.02,.0,-.03,-.01,-.24,-.18,-.17,-.09,-.11,-.13,-.10,-.13,-.17,-.32,-.27,-.20,-.18,-.06]
heat_lps = [.30,.27,.30,.32,.48,.20,.16,.05,.12,.10,.22,.24,.20,.0,.02,.04,.07,.10,.12,.13,.15,.18,.24,.18,.14,.12,.20,.17,.02,.03,0,.40,.50,.42,.27,.27,.32,.42,.78,-.50,-.38,-.50,-.20,-.15,-.13,-.18,-.07,-.25,.0,-.06,-.02,-.24,-.20,-.13,-.13,-.12,-.18,-.08,-.08,-.02,-.27,-.33,-.22,-.35,-.27]
side_edges = [20,570,712,733,783,1548]
side_groups = [0,1,2,3,4]
key_ticks = ["−2", "0", "1", "2"]
col_tree = [(0.5,0),(0.5,1),(2.0,1),(2.0,0.05),(None,None),(1.5,0),(1.5,0.05),(2.5,0.05),(2.5,0)]
row_tree = [(660,725),(278,725),(278,422),(468,422),(None,None),(278,575),(35,575),(35,1042),(386,1042),(None,None),
            (522,205),(468,205),(468,638),(560,638),(None,None),(640,68),(522,68),(522,340),(568,340),(None,None),
            (585,195),(568,195),(568,487),(600,487),(None,None),(610,168),(585,168),(585,225),(610,225),(None,None),
            (625,140),(610,140),(610,200),(635,200),(None,None),(620,400),(600,400),(600,520),(615,520),(None,None),
            (650,340),(620,340),(620,450),(650,450),(None,None),(600,595),(560,595),(560,685),(600,685),(None,None),
            (640,660),(600,660),(600,710),(640,710),(None,None),(497,768),(386,768),(386,1315),(516,1315),(None,None),
            (560,758),(497,758),(497,782),(640,782),(None,None),(610,740),(560,740),(560,770),(610,770),(None,None),
            (555,1150),(516,1150),(516,1480),(570,1480),(None,None),(580,968),(555,968),(555,1330),(600,1330),(None,None),
            (597,890),(580,890),(580,1050),(610,1050),(None,None),(615,840),(597,840),(597,940),(640,940),(None,None),
            (640,800),(615,800),(615,880),(640,880),(None,None),(625,985),(610,985),(610,1100),(645,1100),(None,None),
            (620,1215),(600,1215),(600,1395),(630,1395),(None,None),(640,1150),(620,1150),(620,1265),(640,1265),(None,None),
            (600,1440),(570,1440),(570,1520),(610,1520),(None,None),(640,1420),(600,1420),(600,1465),(640,1465),(None,None),
            (468,725),(468,735),(600,735),(None,None),(545,720),(545,728),(620,728)]
row_fringe = [(656,20),(656,1545)]
row_leaves = [(630,38),(640,50),(600,65),(625,90),(640,110),(630,130),(640,160),(625,180),(645,215),(630,240),(640,270),(630,300),(640,320),
              (630,365),(640,385),(635,420),(640,470),(625,500),(620,540),(640,560),(610,585),(625,610),(630,640),(635,680),(600,700),(620,750),
              (630,775),(625,825),(640,860),(640,905),(620,965),(630,1010),(640,1040),(640,1075),(630,1125),(625,1185),(635,1240),(640,1285),
              (635,1310),(625,1365),(630,1410),(620,1450),(630,1495),(620,1530),
              (640,28),(645,75),(635,100),(645,122),(640,145),(635,172),(640,190),(645,228),(640,255),(635,285),(645,310),(640,352),(635,375),
              (640,408),(645,435),(635,460),(640,490),(635,530),(645,550),(640,600),(635,625),(640,650),(630,695),(625,720),(590,730),(610,745),
              (640,795),(645,815),(635,850),(640,880),(645,930),(640,985),(635,1025),(645,1060),(640,1100),(635,1160),(640,1205),(645,1265),
              (640,1340),(640,1385),(645,1430),(635,1470),(640,1515)]

fig = go.Figure()


def xs(pts):
    return [p[0] for p in pts]


def ys(pts):
    return [p[1] for p in pts]


def dots(n, pts, color, size=4.5):
    fig.add_trace(go.Scatter(x=xs(pts), y=ys(pts), mode="markers", xaxis="x%d" % n, yaxis="y%d" % n, showlegend=False,
                             marker=dict(color=color, size=size, line_width=0)))


def band(n, pts, color):
    fig.add_trace(go.Scatter(x=xs(pts), y=ys(pts), mode="lines", fill="toself", fillcolor=color, xaxis="x%d" % n, yaxis="y%d" % n,
                             showlegend=False, line=dict(width=0, color=color)))


def lines(n, pts, color, width, dash="solid"):
    fig.add_trace(go.Scatter(x=xs(pts), y=ys(pts), mode="lines", xaxis="x%d" % n, yaxis="y%d" % n, showlegend=False,
                             line=dict(color=color, width=width, dash=dash)))


def note(text, x, y, size, family=ARIAL, color="black", angle=0, anchor="center", height=None):
    fig.add_annotation(text=text, x=x / W, y=1 - y / H, xref="paper", yref="paper", showarrow=False, textangle=angle, height=height,
                       xanchor=anchor, yanchor="middle", font=dict(size=size, family=family, color=color))


def box(n, left, right, top, bottom, xrange, yrange):
    name = "" if n == 1 else str(n)
    xaxis = dict(domain=[left / W, right / W], anchor="y" + name, range=xrange, showgrid=False, zeroline=False)
    yaxis = dict(domain=[1 - bottom / H, 1 - top / H], anchor="x" + name, range=yrange, showgrid=False, zeroline=False)
    fig.update_layout({"xaxis" + name: xaxis, "yaxis" + name: yaxis})


def hidden(n):
    name = "" if n == 1 else str(n)
    fig.update_layout({"xaxis" + name: dict(visible=False), "yaxis" + name: dict(visible=False)})


# panel a
for name, px, py, sym, col, size in zip(pca_names, pca_x, pca_y, ["circle", "triangle-up", "circle"], ["black", "black", "white"], [29, 22, 27]):
    fig.add_trace(go.Scatter(x=[px], y=[py], mode="markers", name=name, showlegend=False,
                             marker=dict(symbol=sym, size=size, color=col, line=dict(color="black", width=1.5))))
box(1, 205, 1076, 25, 746, [-176.4, 95.3], [-88.8, 88.7])
dash_a = "12px,4px,3px,4px"
fig.update_layout(xaxis=dict(tickvals=[-100, 0], ticktext=["-100", "0"], showgrid=True, griddash=dash_a, gridcolor="#222", gridwidth=1.5,
                             minor=dict(tickvals=[-150, -50, 50], showgrid=True, gridcolor="#EFEFEF", gridwidth=1.5, ticks=""),
                             showline=True, mirror=True, linecolor="black", linewidth=4, ticks="outside", ticklen=16, tickwidth=3, ticklabelstandoff=-10,
                             tickfont=dict(family=ARIAL, size=35, color="black")),
                  yaxis=dict(tickvals=[-50, 0, 50], ticktext=["-50", "0", "50"], showgrid=True, griddash=dash_a, gridcolor="#222", gridwidth=1.5,
                             minor=dict(tickvals=[-75, -25, 25, 75], showgrid=True, gridcolor="#EFEFEF", gridwidth=1.5, ticks=""),
                             showline=True, mirror=True, linecolor="black", linewidth=4, ticks="outside", ticklen=16, tickwidth=3, tickangle=-90, ticklabelstandoff=2,
                             tickfont=dict(family=ARIAL, size=34, color="black")))
note("PC1(75.6%)", 630, 825, 41)
note("PC2(24.4%)", 103, 345, 49, angle=-90)
note("●", 1123, 150, 32, family="DejaVu Sans")
note("▲", 1123, 253, 35, family="DejaVu Sans")
note("○", 1125, 358, 32, family="DejaVu Sans")
note(": WBC", 1147, 146, 49, anchor="left")
note(": Mø", 1147, 254, 49, anchor="left")
note(": M(LPS)", 1147, 355, 50, anchor="left")

# panel b
fig.add_trace(go.Bar(x=[0, 1, 2], y=up_counts, width=0.25, offset=-0.25, marker=dict(color="#1D479C", line=dict(color="black", width=1.5)),
                     xaxis="x2", yaxis="y2", name="Up", showlegend=False))
fig.add_trace(go.Bar(x=[0, 1, 2], y=down_counts, width=0.25, offset=0, marker=dict(color=RED, line=dict(color="black", width=1.5)),
                     xaxis="x2", yaxis="y2", name="Down", showlegend=False))
box(2, 1582, 2233, 24, 774, [-0.603, 2.588], [-180, 4469])
fig.update_layout(barmode="overlay")
fig.update_layout(xaxis2=dict(tickvals=[0, 1, 2], ticktext=lists, showgrid=True, gridcolor="white", gridwidth=2, showline=True, mirror=True, linecolor="#808080",
                              linewidth=3, ticks="outside", ticklen=16, tickwidth=2.5, tickcolor="#222", ticklabelstandoff=-6, ticklabelshift=7,
                              tickfont=dict(family=ARIAL, size=38, color="black")),
                  yaxis2=dict(tickvals=[0, 1000, 2000, 3000, 4000], showgrid=True, gridcolor="white", gridwidth=2, showline=True, mirror=True, linecolor="#808080",
                              minor=dict(tickvals=[500, 1500, 2500, 3500], showgrid=True, gridcolor="#F5F5F5", gridwidth=1.5, ticks=""),
                              linewidth=3, ticks="outside", ticklen=16, tickwidth=2.5, tickcolor="#222", ticklabelstandoff=4, ticklabelshift=3, tickformat="d",
                              tickfont=dict(family=ARIAL, size=32, weight="bold", color="black")))
fig.add_shape(type="rect", xref="x2 domain", yref="y2 domain", x0=0, x1=1, y0=0, y1=1, fillcolor="#EBEBEB", line_width=0, layer="below")
for text, tx, ty in zip(up_counts + down_counts, [-0.232, 0.895, 1.796, 0.33, 1.376, 2.223], [4287, 4356, 260, 3736, 4137, 195]):
    fig.add_annotation(text=str(text), x=tx, y=ty, xref="x2", yref="y2", showarrow=False, font=dict(family=ARIAL, size=42, color="black"))
note("<b>Number</b>", 1423, 408, 46, angle=-90)
note("<b>Regulation</b>", 2354, 254, 33)
note("<b>Up</b>", 2331, 311, 29, anchor="left")
note("<b>Down</b>", 2331, 363, 29, anchor="left")
for y0, y1, col in [(290, 332, "#1D479C"), (342, 386, RED)]:
    fig.add_shape(type="rect", xref="paper", yref="paper", x0=2272 / W, x1=2315 / W, y0=1 - y1 / H, y1=1 - y0 / H, fillcolor=col, line=dict(color="black", width=2))


# panels c
def volcano(n, left, right, top, bottom, xrange, yrange, xticks, yticks, ytext, frame, vline, hline1, hline2=None):
    box(n, left, right, top, bottom, xrange, yrange)
    name = str(n)
    fig.update_layout({"xaxis" + name: dict(tickvals=xticks, ticktext=[str(v) for v in xticks], ticklabelstandoff=-4),
                       "yaxis" + name: dict(tickvals=yticks, ticktext=ytext, tickangle=-90, ticklabelstandoff=3)})
    axis = dict(showline=True, mirror=True, linecolor="black", linewidth=frame, ticks="outside", ticklen=12, tickwidth=2.5,
                tickfont=dict(family=NOTO, size=27, weight="bold", color="black"))
    fig.layout["xaxis" + name].update(axis)
    fig.layout["yaxis" + name].update(axis)
    dd = "11px,3px,2px,3px,2px,3px"
    for v in [-vline, vline]:
        fig.add_shape(type="line", xref="x" + name, yref="y%s domain" % name, x0=v, x1=v, y0=0, y1=1, line=dict(color="#222", width=1.5, dash=dd))
    fig.add_shape(type="line", xref="x%s domain" % name, yref="y" + name, x0=0.01, x1=0.99, y0=hline1, y1=hline1, line=dict(color="#333", width=1.5, dash=dd))
    if hline2 is not None:
        fig.add_shape(type="line", xref="x%s domain" % name, yref="y" + name, x0=0.01, x1=0.99, y0=hline2, y1=hline2, line=dict(color="#BBB", width=1.2, dash="4px,3px"))


def half(n, band_pts, arcs, pts, col_x, col_y, col_top, black, fan, fan_dots, black_pts, color):
    band(n, fan, "rgba(0,0,0,0.2)")
    dots(n, fan_dots, "rgba(0,0,0,0.55)", 3.5)
    band(n, black, "black")
    band(n, band_pts, color)
    lines(n, arcs, color, 3.5, "3.5px,5.5px")
    lines(n, [(col_x, col_top), (col_x, 10)], color, 3.2, "3px,1.5px")
    dots(n, pts, color)
    dots(n, [(col_x, v) for v in col_y], color)
    dots(n, black_pts, "black")


volcano(3, 177, 781, 974.5, 1525.6, [-5.37, 5.42], [-0.42, 10.38], [-4, -2, 0, 2, 4], [0, 2, 4, 6, 8, 10], ["0", "2", "4", "6", "8", "10"], 3, 0.585, 1.3)
half(3, c1_blue_band, c1_blue_arcs, c1_blue_dots, -5, c1_blue_col_y, 5.8, c1_black_left, c1_fan_left, c1_fan_dots_left, c1_black_dots_left, BLUE)
half(3, c1_red_band, c1_red_arcs, c1_red_dots, 5, c1_red_col_y, 5.8, c1_black_right, c1_fan_right, c1_fan_dots_right, c1_black_dots_right, RED)

volcano(4, 995.4, 1618, 965.6, 1534, [-5.38, 5.41], [-0.436, 10.41], [-4, -2, 0, 2, 4], [0, 2, 4, 6, 8, 10], ["0", "2", "4", "6", "8", "10"], 4, 0.585, 1.3)
half(4, c2_blue_band, c2_blue_arcs, c2_blue_dots, -4.95, c2_blue_col_y, 6.2, c2_black_left, c2_fan_left, c2_fan_dots_left, c2_black_dots_left, BLUE)
half(4, c2_red_band, c2_red_arcs, c2_red_dots, 5, c2_red_col_y, 4.4, c2_black_right, c2_fan_right, c2_fan_dots_right, c2_black_dots_right, RED)

volcano(5, 1785.4, 2419, 974.5, 1551.5, [-4.32, 4.35], [-0.129, 3.127], [-4, -2, 0, 2, 4], [0, 0.5, 1, 1.5, 2, 2.5, 3], ["0.0", "0.5", "1.0", "1.5", "2.0", "2.5", "3.0"], 3, 0.585, 0.38, 1.305)
band(5, c3_fan_left, "rgba(0,0,0,0.18)")
band(5, c3_fan_right, "rgba(0,0,0,0.18)")
dots(5, c3_light, "rgba(0,0,0,0.22)", 5)
dots(5, c3_mid, "rgba(0,0,0,0.5)", 5)
band(5, c3_black_left, "black")
band(5, c3_black_right, "black")
dots(5, c3_black, "black", 5)
dots(5, c3_blue, BLUE, 5)
dots(5, c3_red, RED, 5)

for title, tx, ty in [("WBC-VS-Mø", 481, 917), ("WBC-VS-M(LPS)", 1309, 906), ("WBC-VS-M(LPS)", 2104, 914)]:
    note("<b>%s</b>" % title, tx, ty, 31, family=NOTO)
for tx, ty in [(478, 1594), (1307, 1603), (2104, 1622)]:
    note("<b>log2(FC)</b>", tx, ty, 24, family=NOTO)
for tx, ty in [(95, 1245), (912, 1249), (1699, 1261)]:
    note("<b>-log10(p-value)</b>", tx, ty, 24, family=NOTO, angle=-90)

# panel d
for x0, x1, y0, y1, col in [(381, 955, 1796, 2368, "rgb(181,165,202)"), (545, 1116, 2069, 2649, "rgba(59,78,163,0.51)"), (214, 788, 2076, 2649, "rgba(57,160,189,0.53)")]:
    fig.add_shape(type="circle", xref="paper", yref="paper", x0=x0 / W, x1=x1 / W, y0=1 - y1 / H, y1=1 - y0 / H, fillcolor=col, line=dict(color="#111", width=1.5))
for text, tx, ty in zip(venn_values, [668, 513, 830, 660, 430, 664, 936], [1955, 2176, 2167, 2252, 2436, 2444, 2423]):
    note(text, tx, ty, 52)
for text, tx, ty in zip(venn_lists, [681, 171, 1183], [1716, 2642, 2645]):
    note(text, tx, ty, 52)

# panel e
colorscale = [[0, "#0B2778"], [0.068, "#0A2A8C"], [0.227, "#21479E"], [0.33, "#2A4FA3"], [0.432, "#B0B0DA"], [0.5, "#FFFFFF"], [0.727, RED], [0.795, "#D01A1E"], [1, "#761416"]]
heat_z = [list(row) for row in zip(heat_wbc, heat_mac, heat_lps)]
fig.add_trace(go.Heatmap(z=heat_z, x=[0, 1, 2, 3], y=heat_edges, xaxis="x6", yaxis="y6", zmin=-2.2, zmax=2.2, colorscale=colorscale, hoverinfo="skip",
                         colorbar=dict(orientation="h", lenmode="pixels", len=184, thickness=128, x=1580.5 / W, xanchor="left", y=1 - 1710.5 / H, yanchor="top",
                                       xpad=0, ypad=0, tickvals=[-2, -1, 0, 1, 2], ticks="outside", ticklen=17, tickwidth=2, tickcolor="#444", outlinecolor="#333", outlinewidth=1.5,
                                       showticklabels=False)))
box(6, 1917.7, 2254.3, 1893.9, 2571, [0, 3], [1548, 20])
hidden(6)
side_scale = [[0, "#2359A8"], [0.25, "#4B4295"], [0.5, "#A8479A"], [0.75, "#6BBD5F"], [1, "#64C4D8"]]
fig.add_trace(go.Heatmap(z=[[g] for g in side_groups], x=[0, 1], y=side_edges, xaxis="x7", yaxis="y7", colorscale=side_scale, showscale=False, hoverinfo="skip"))
box(7, 1888, 1909, 1893.9, 2571, [0, 1], [1548, 20])
hidden(7)
lines(8, row_tree, "#222", 1.6)
lines(8, [q for pair in row_leaves for q in (pair, (656, pair[1]), (None, None))], "#111", 2)
lines(8, row_fringe, "black", 6)
box(8, 1660, 1890, 1885, 2580, [0, 690], [1568, 0])
hidden(8)
lines(9, col_tree, "#444", 2)
box(9, 1917.7, 2254.3, 1671, 1885, [0, 3], [0, 1])
hidden(9)
note("<b>Color Key</b>", 1673, 1679, 33, color="#333")
for text, tx in zip(key_ticks, [1589, 1673, 1714, 1756]):
    note(text, tx, 1889, 25, color="#444")
note("Value", 1673, 1932, 26, color="#444")
for text, tx, ty in zip(heat_cols, [1948, 2071, 2170], [2635, 2625, 2649]):
    note("<b>%s</b>" % text, tx, ty, 38, family=NOTO, angle=-45)

# panel letters
note("a", 29, 54, 100, height=106)
note("b", 1388, 54, 100, height=106)
for text, tx, base, size in [("d", 29, 1720, 100), ("e", 1444, 1720, 100),
                             ("c", 30, 1070, 105), ("c", 871, 1070, 105), ("c", 1662, 1070, 105)]:
    note(text, tx, base - 0.37 * size, size)
for text, tx in [("1", 70), ("2", 910), ("3", 1700)]:
    note(text, tx, 1070 - 21, 60)

fig.update_layout(width=W, height=H, margin=dict(l=0, r=0, t=0, b=0), paper_bgcolor="white", plot_bgcolor="rgba(0,0,0,0)", showlegend=False)
fig.write_html("out.html", post_script="document.body.style.margin='0';", config=dict(displayModeBar=False))
